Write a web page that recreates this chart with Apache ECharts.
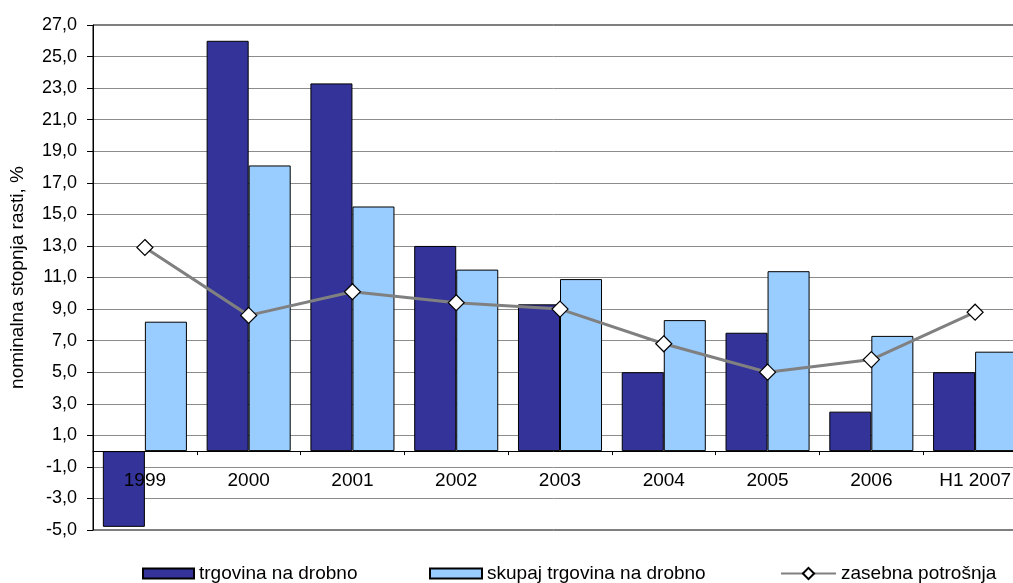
<!DOCTYPE html>
<html>
<head>
<meta charset="utf-8">
<script src="https://cdn.jsdelivr.net/npm/echarts@6/dist/echarts.min.js"></script>
<style>
html,body{margin:0;padding:0;background:#fff;}
#chart{width:1013px;height:583px;}
</style>
</head>
<body>
<div id="chart"></div>
<script>
const categories = ['1999', '2000', '2001', '2002', '2003', '2004', '2005', '2006', 'H1 2007'];
const trgovina = [-4.8, 26.0, 23.3, 13.0, 9.3, 5.0, 7.5, 2.5, 5.0];
const skupaj = [8.2, 18.1, 15.5, 11.5, 10.9, 8.3, 11.4, 7.3, 6.3];
const zasebna = [12.9, 8.6, 10.1, 9.4, 9.0, 6.8, 5.0, 5.8, 8.8];
const seriesNames = ['trgovina na drobno', 'skupaj trgovina na drobno', 'zasebna potrošnja'];
const yTitle = 'nominalna stopnja rasti, %';
const yMin = -5, yMax = 27, yStep = 2;

const chart = echarts.init(document.getElementById('chart'), null, {renderer: 'canvas'});
const font = 'Liberation Sans';
const legendText = {fontSize: 19, color: '#000', fontFamily: font};
const option = {
  animation: false,
  backgroundColor: '#fff',
  textStyle: {fontFamily: font},
  grid: {left: 93, right: -14, top: 25, bottom: 53, show: true, borderColor: '#000', borderWidth: 1,
    backgroundColor: 'transparent', outerBoundsMode: 'none', containLabel: false},
  legend: [
    {data: [{name: seriesNames[0], icon: 'rect'}], left: 137, top: 559, itemWidth: 51, itemHeight: 10, textStyle: legendText},
    {data: [{name: seriesNames[1], icon: 'rect'}], left: 424, top: 559, itemWidth: 52, itemHeight: 10, textStyle: legendText},
    {data: [seriesNames[2]], left: 775, top: 559, itemWidth: 55, itemHeight: 14, textStyle: legendText}
  ],
  xAxis: {
    type: 'category',
    data: categories,
    z: 3,
    position: 'bottom',
    offset: 0,
    axisLine: {show: true, onZero: false, lineStyle: {color: '#000', width: 1}},
    axisTick: {show: true, length: 4, inside: false, lineStyle: {color: '#000'}},
    axisLabel: {fontSize: 19, color: '#000', margin: 20, fontFamily: font},
    splitLine: {show: false}
  },
  yAxis: {
    type: 'value',
    min: yMin, max: yMax, interval: yStep,
    name: yTitle,
    nameLocation: 'middle',
    nameRotate: 90,
    nameGap: 66,
    nameTextStyle: {fontSize: 19, color: '#000', fontFamily: font},
    axisLine: {show: true, onZero: false, lineStyle: {color: '#000', width: 1}},
    axisTick: {show: true, length: 6, lineStyle: {color: '#000'}},
    axisLabel: {fontSize: 18, color: '#000', margin: 16, fontFamily: font,
      formatter: v => v.toFixed(1).replace('.', ',')},
    splitLine: {show: true, showMinLine: false, showMaxLine: false, lineStyle: {color: '#8c8c8c', width: 1}}
  },
  series: [
    {name: seriesNames[0], type: 'bar', data: trgovina, barGap: '0%', barCategoryGap: '19%',
      itemStyle: {color: '#333399', borderColor: '#000', borderWidth: 1}},
    {name: seriesNames[1], type: 'bar', data: skupaj, barGap: '0%', barCategoryGap: '19%',
      itemStyle: {color: '#99ccff', borderColor: '#000', borderWidth: 1}},
    {name: seriesNames[2], type: 'line', data: zasebna, z: 5,
      symbol: 'diamond', symbolSize: 16, showAllSymbol: true,
      lineStyle: {color: '#808080', width: 3},
      itemStyle: {color: '#fff', borderColor: '#000', borderWidth: 1.2}}
  ]
};
chart.setOption(option);
// place the category axis on the zero line, using the value axis scale
const pxZero = chart.convertToPixel({yAxisIndex: 0}, 0);
const pxMin = chart.convertToPixel({yAxisIndex: 0}, yMin);
chart.setOption({xAxis: {offset: -(pxMin - pxZero)}});
</script>
</body>
</html>
